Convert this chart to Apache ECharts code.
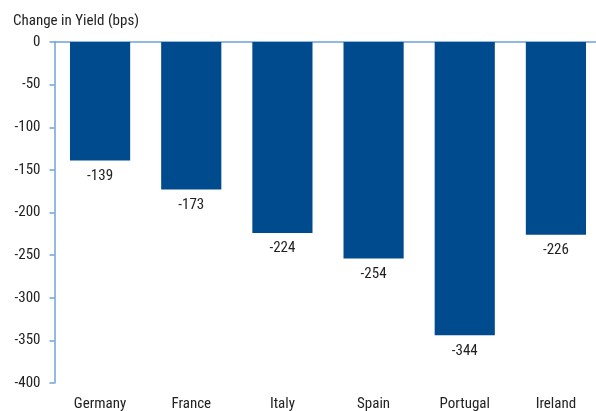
<!DOCTYPE html>
<html><head><meta charset="utf-8">
<script src="https://cdn.jsdelivr.net/npm/echarts@6/dist/echarts.min.js"></script>
<style>html,body{margin:0;padding:0;background:#fff}#c{width:596px;height:411px}</style>
</head><body><div id="c"></div>
<script>
var categories = ['Germany', 'France', 'Italy', 'Spain', 'Portugal', 'Ireland'];
var values = [-139, -173, -224, -254, -344, -226];
var yTicks = [0, -50, -100, -150, -200, -250, -300, -350, -400];
var titleText = 'Change in Yield (bps)';

var FONT = '"Liberation Sans Narrow", "Roboto Condensed", "Arial Narrow", Roboto, sans-serif';
var chart = echarts.init(document.getElementById('c'), null, {renderer: 'canvas'});
chart.setOption({
  animation: false,
  title: {text: titleText, left: 8, top: 9, textStyle: {fontFamily: FONT, fontSize: 15, fontWeight: 'normal', color: '#222'}},
  grid: {left: 54.5, width: 547, top: 42, height: 341, containLabel: false, outerBoundsMode: 'none'},
  xAxis: [{
    type: 'category', data: categories, position: 'top',
    axisLine: {show: true, onZero: false, lineStyle: {color: '#6fa3d8', width: 1.5}},
    axisTick: {show: false}, axisLabel: {show: false}
  }, {
    type: 'category', data: categories, position: 'bottom',
    axisLine: {show: false}, axisTick: {show: false},
    axisLabel: {margin: 14, fontFamily: FONT, fontSize: 15, color: '#222'}
  }],
  yAxis: {
    type: 'value', min: -400, max: 0, interval: 50,
    axisLine: {show: true, lineStyle: {color: '#6fa3d8', width: 1.5}},
    axisTick: {show: true, length: 5, lineStyle: {color: '#6fa3d8', width: 1.5}},
    splitLine: {show: false},
    axisLabel: {margin: 14, fontFamily: FONT, fontSize: 15, color: '#222'}
  },
  series: [{
    type: 'bar', xAxisIndex: 1, data: values, barWidth: '66%',
    itemStyle: {color: '#004b8d'},
    label: {show: true, position: 'bottom', distance: 8, fontFamily: FONT, fontSize: 15, color: '#222'}
  }]
});
</script></body></html>
